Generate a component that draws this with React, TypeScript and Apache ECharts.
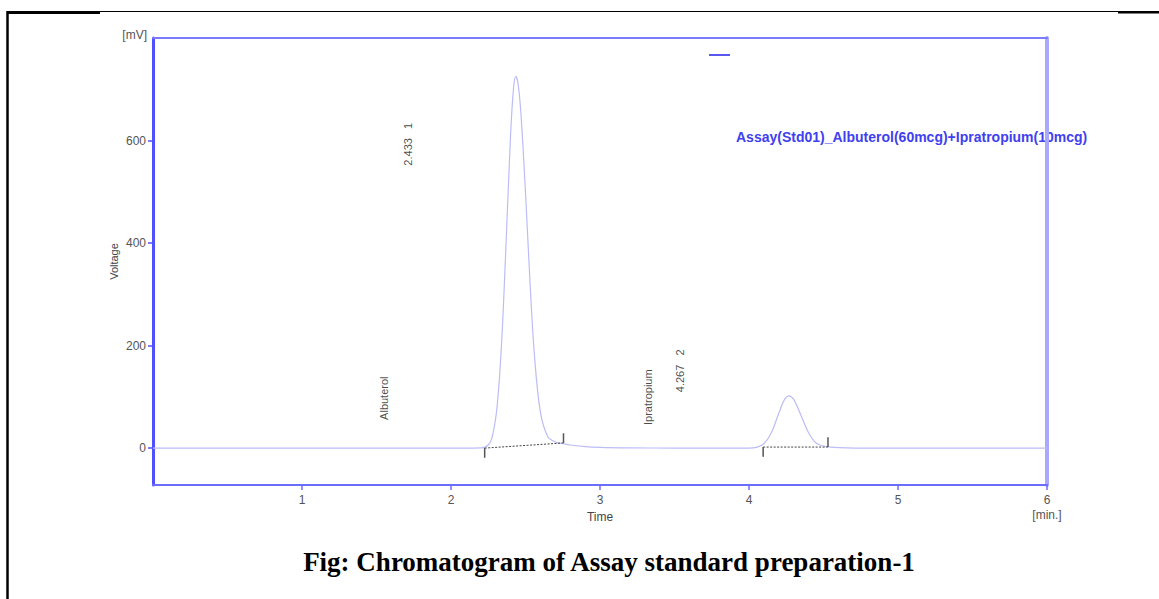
import React, { useEffect, useRef } from 'react';
import * as echarts from 'echarts';

// Chromatogram trace: retention time [min] and signal [mV]
const traceTime = [0, 0.5, 1.0, 1.5, 2.0, 2.15, 2.2, 2.25, 2.28, 2.31, 2.34, 2.37, 2.4, 2.42, 2.435, 2.45, 2.47, 2.5, 2.53, 2.56, 2.6, 2.65, 2.7, 2.75, 2.8, 2.9, 3.0, 3.2, 3.5, 3.8, 4.0, 4.05, 4.1, 4.15, 4.2, 4.235, 4.267, 4.3, 4.35, 4.4, 4.45, 4.5, 4.55, 4.6, 4.8, 5.0, 5.5, 6.0];
const traceMv = [0, 0, 0, 0, 0, 0, 0.3, 6, 26, 83, 207, 403, 612, 703, 725, 711, 650, 498, 325, 181, 70, 22, 12, 9, 6, 3, 1.5, 0.5, 0, 0, 0, 1.5, 8.5, 30, 68, 93, 102, 95, 63, 30, 10, 4, 2, 1, 0, 0, 0, 0];

const xTicks = [1, 2, 3, 4, 5, 6];
const yTicks = [0, 200, 400, 600];

// Integration baselines (time, mV)
const peak1Baseline = [[2.226, 0], [2.755, 10]];
const peak2Baseline = [[4.095, 2], [4.53, 2]];
// Integration markers: time, from mV, to mV
const integrationTicks = [
  [2.226, 0, -19],
  [2.755, 10, 29],
  [4.095, 2, -17],
  [4.53, 2, 21],
];

// Peak annotations
const labelTimes = [1.709, 1.548, 3.324, 3.539];
const labelMv = [551, 55, 45, 109];
const labelTexts = ['2.433   1', 'Albuterol', 'Ipratropium', '4.267   2'];

const seriesName = 'Assay(Std01)_Albuterol(60mcg)+Ipratropium(10mcg)';
const caption = 'Fig: Chromatogram of Assay standard preparation-1';

export default function App() {
  const ref = useRef<HTMLDivElement>(null);

  useEffect(() => {
    if (!ref.current) return;
    const chart = echarts.init(ref.current, undefined, { renderer: 'svg' });
    const font = 'Liberation Sans';
    const tickSeries = integrationTicks.map((t) => ({
      type: 'line',
      data: [[t[0], t[1]], [t[0], t[2]]],
      symbol: 'none',
      silent: true,
      lineStyle: { color: '#555', width: 1.5 },
      z: 4,
    }));
    const option: any = {
      animation: false,
      backgroundColor: '#fff',
      grid: { left: 153, top: 38, right: 112, bottom: 114 },
      xAxis: [
        {
          type: 'value',
          min: 0,
          max: 6,
          interval: 1,
          position: 'bottom',
          axisLine: { onZero: false, lineStyle: { color: '#6c6cff', width: 2 } },
          axisTick: { customValues: xTicks, length: 5, lineStyle: { color: '#6c6cff', width: 1.5 } },
          axisLabel: {
            customValues: xTicks,
            formatter: (v: number) => (v === 6 ? '6\n[min.]' : String(v)),
            color: '#555',
            fontSize: 12,
            fontFamily: font,
            lineHeight: 15,
            margin: 7,
          },
          splitLine: { show: false },
          name: 'Time',
          nameLocation: 'middle',
          nameGap: 26,
          nameMoveOverlap: false,
          nameTextStyle: { color: '#444', fontSize: 12, fontFamily: font },
        },
        {
          type: 'value',
          min: 0,
          max: 6,
          position: 'top',
          axisLine: { show: true, onZero: false, lineStyle: { color: '#7a7aff', width: 2 } },
          axisTick: { show: false },
          axisLabel: { show: false },
          splitLine: { show: false },
        },
      ],
      yAxis: [
        {
          type: 'value',
          min: -72,
          max: 800,
          position: 'left',
          axisLine: { show: true, onZero: false, lineStyle: { color: '#5050ff', width: 3 } },
          axisTick: { show: true, customValues: yTicks, length: 5, lineStyle: { color: '#5050ff', width: 1.5 } },
          axisLabel: { customValues: yTicks, color: '#555', fontSize: 12, fontFamily: font, margin: 7 },
          splitLine: { show: false },
          name: 'Voltage',
          nameLocation: 'middle',
          nameGap: 34,
          nameMoveOverlap: false,
          nameRotate: 90,
          nameTextStyle: { color: '#444', fontSize: 11, fontFamily: font },
        },
        {
          type: 'value',
          min: -72,
          max: 800,
          position: 'right',
          axisLine: { show: true, onZero: false, lineStyle: { color: '#a8a8ff', width: 4 } },
          axisTick: { show: false },
          axisLabel: { show: false },
          splitLine: { show: false },
        },
      ],
      series: [
        {
          type: 'line',
          name: seriesName,
          data: traceTime.map((t, i) => [t, traceMv[i]]),
          symbol: 'none',
          smooth: 0.35,
          lineStyle: { color: '#bcbcf7', width: 1.2 },
          z: 3,
        },
        {
          type: 'line',
          data: peak1Baseline,
          symbol: 'none',
          silent: true,
          lineStyle: { color: '#444', width: 1, type: [2, 1.5] },
          z: 4,
        },
        {
          type: 'line',
          data: peak2Baseline,
          symbol: 'none',
          silent: true,
          lineStyle: { color: '#444', width: 1, type: [2, 1.5] },
          z: 4,
        },
        ...tickSeries,
        {
          type: 'scatter',
          symbolSize: 0,
          silent: true,
          data: labelTimes.map((t, i) => ({ value: [t, labelMv[i]], name: labelTexts[i] })),
          label: {
            show: true,
            formatter: '{b}',
            position: 'inside',
            rotate: 90,
            align: 'left',
            verticalAlign: 'middle',
            color: '#1a1a1a',
            fontSize: 11,
            fontFamily: font,
          },
          z: 5,
        },
      ],
      graphic: [
        { type: 'line', shape: { x1: 7.5, y1: 11, x2: 7.5, y2: 599 }, style: { stroke: '#000', lineWidth: 2.5 } },
        { type: 'line', shape: { x1: 7, y1: 11.5, x2: 1159, y2: 11.5 }, style: { stroke: '#000', lineWidth: 1 } },
        { type: 'line', shape: { x1: 7, y1: 12.5, x2: 100, y2: 12.5 }, style: { stroke: '#000', lineWidth: 3 } },
        { type: 'line', shape: { x1: 1118, y1: 12.2, x2: 1159, y2: 12.2 }, style: { stroke: '#000', lineWidth: 2.5 } },
        {
          type: 'text',
          x: 147,
          y: 35,
          style: { text: '[mV]', fill: '#555', font: '12px "Liberation Sans"', textAlign: 'right', textVerticalAlign: 'middle' },
        },
        { type: 'line', shape: { x1: 709, y1: 55, x2: 730, y2: 55 }, style: { stroke: '#5858f0', lineWidth: 2 } },
        {
          type: 'text',
          x: 736,
          y: 137,
          style: { text: seriesName, fill: '#4040f0', font: 'bold 14px "Liberation Sans"', textAlign: 'left', textVerticalAlign: 'middle' },
        },
        {
          type: 'text',
          x: 609,
          y: 562,
          style: { text: caption, fill: '#000', font: 'bold 27px "Liberation Serif"', textAlign: 'center', textVerticalAlign: 'middle' },
        },
      ],
    };
    chart.setOption(option);
    return () => chart.dispose();
  }, []);

  return (
    <div
      ref={ref}
      style={{ position: 'fixed', left: 0, top: 0, width: 1159, height: 599, background: '#fff' }}
    />
  );
}
